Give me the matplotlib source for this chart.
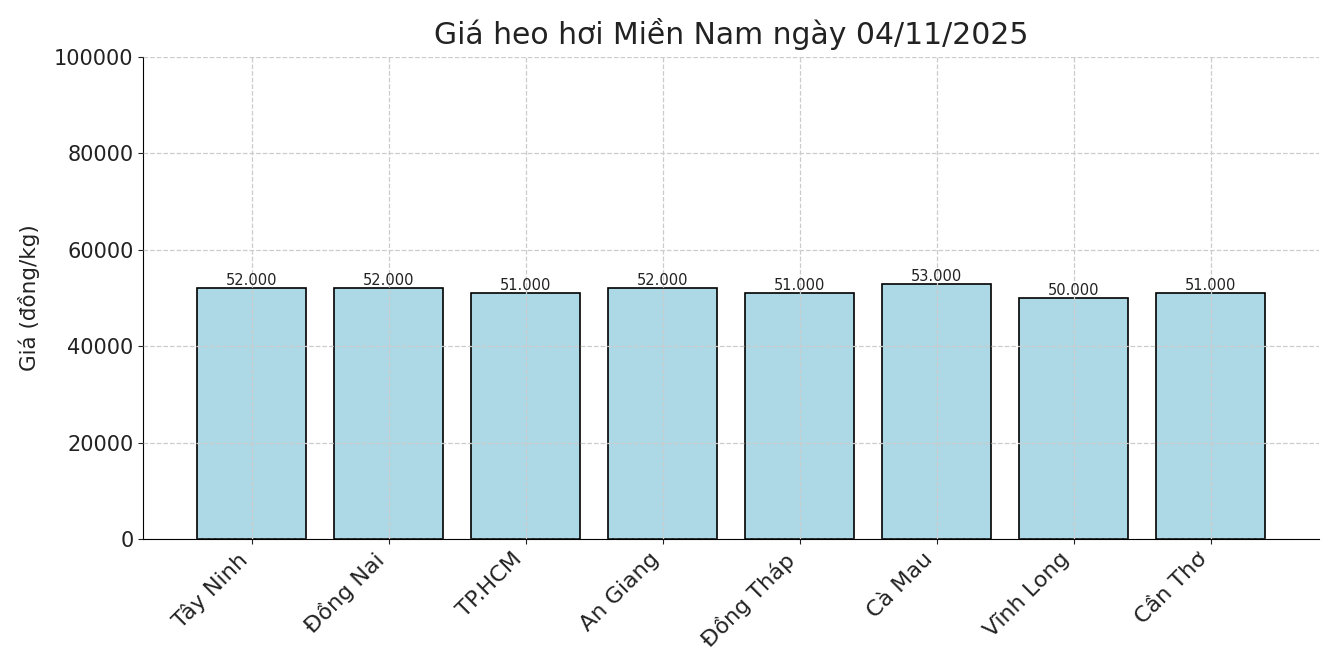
import matplotlib
matplotlib.use('Agg')
import matplotlib.pyplot as plt

# du lieu gia heo hoi
provinces = ['Tây Ninh', 'Đồng Nai', 'TP.HCM', 'An Giang', 'Đồng Tháp', 'Cà Mau', 'Vĩnh Long', 'Cần Thơ']
prices = [52000, 52000, 51000, 52000, 51000, 53000, 50000, 51000]
price_labels = ['52.000', '52.000', '51.000', '52.000', '51.000', '53.000', '50.000', '51.000']

fig, ax = plt.subplots(figsize=(13.39, 6.69), dpi=100)
fig.subplots_adjust(left=0.107, right=0.985, top=0.915, bottom=0.194)

bars = ax.bar(provinces, prices, width=0.8, color='lightblue', edgecolor='black', linewidth=1.2)

for b, lab in zip(bars, price_labels):
    ax.text(b.get_x() + b.get_width() / 2, b.get_height(), lab,
            ha='center', va='bottom', fontsize=10.5, color='#222222')

ax.set_ylim(0, 100000)
ax.set_yticks(range(0, 100001, 20000))
ax.set_title('Giá heo hơi Miền Nam ngày 04/11/2025', fontsize=21.5, color='#222222', pad=9)
ax.set_ylabel('Giá (đồng/kg)', fontsize=15.5, color='#222222', labelpad=10)
ax.tick_params(axis='y', labelsize=15, colors='#222222')
ax.tick_params(axis='x', labelsize=16, colors='#222222')
plt.setp(ax.get_xticklabels(), rotation=45, ha='right')

ax.grid(True, linestyle='--', color='#cccccc', linewidth=0.9)
ax.set_axisbelow(False)
for b in bars:
    b.set_zorder(1)
ax.spines['top'].set_visible(False)
ax.spines['right'].set_visible(False)

fig.savefig('out.png', dpi=100)
